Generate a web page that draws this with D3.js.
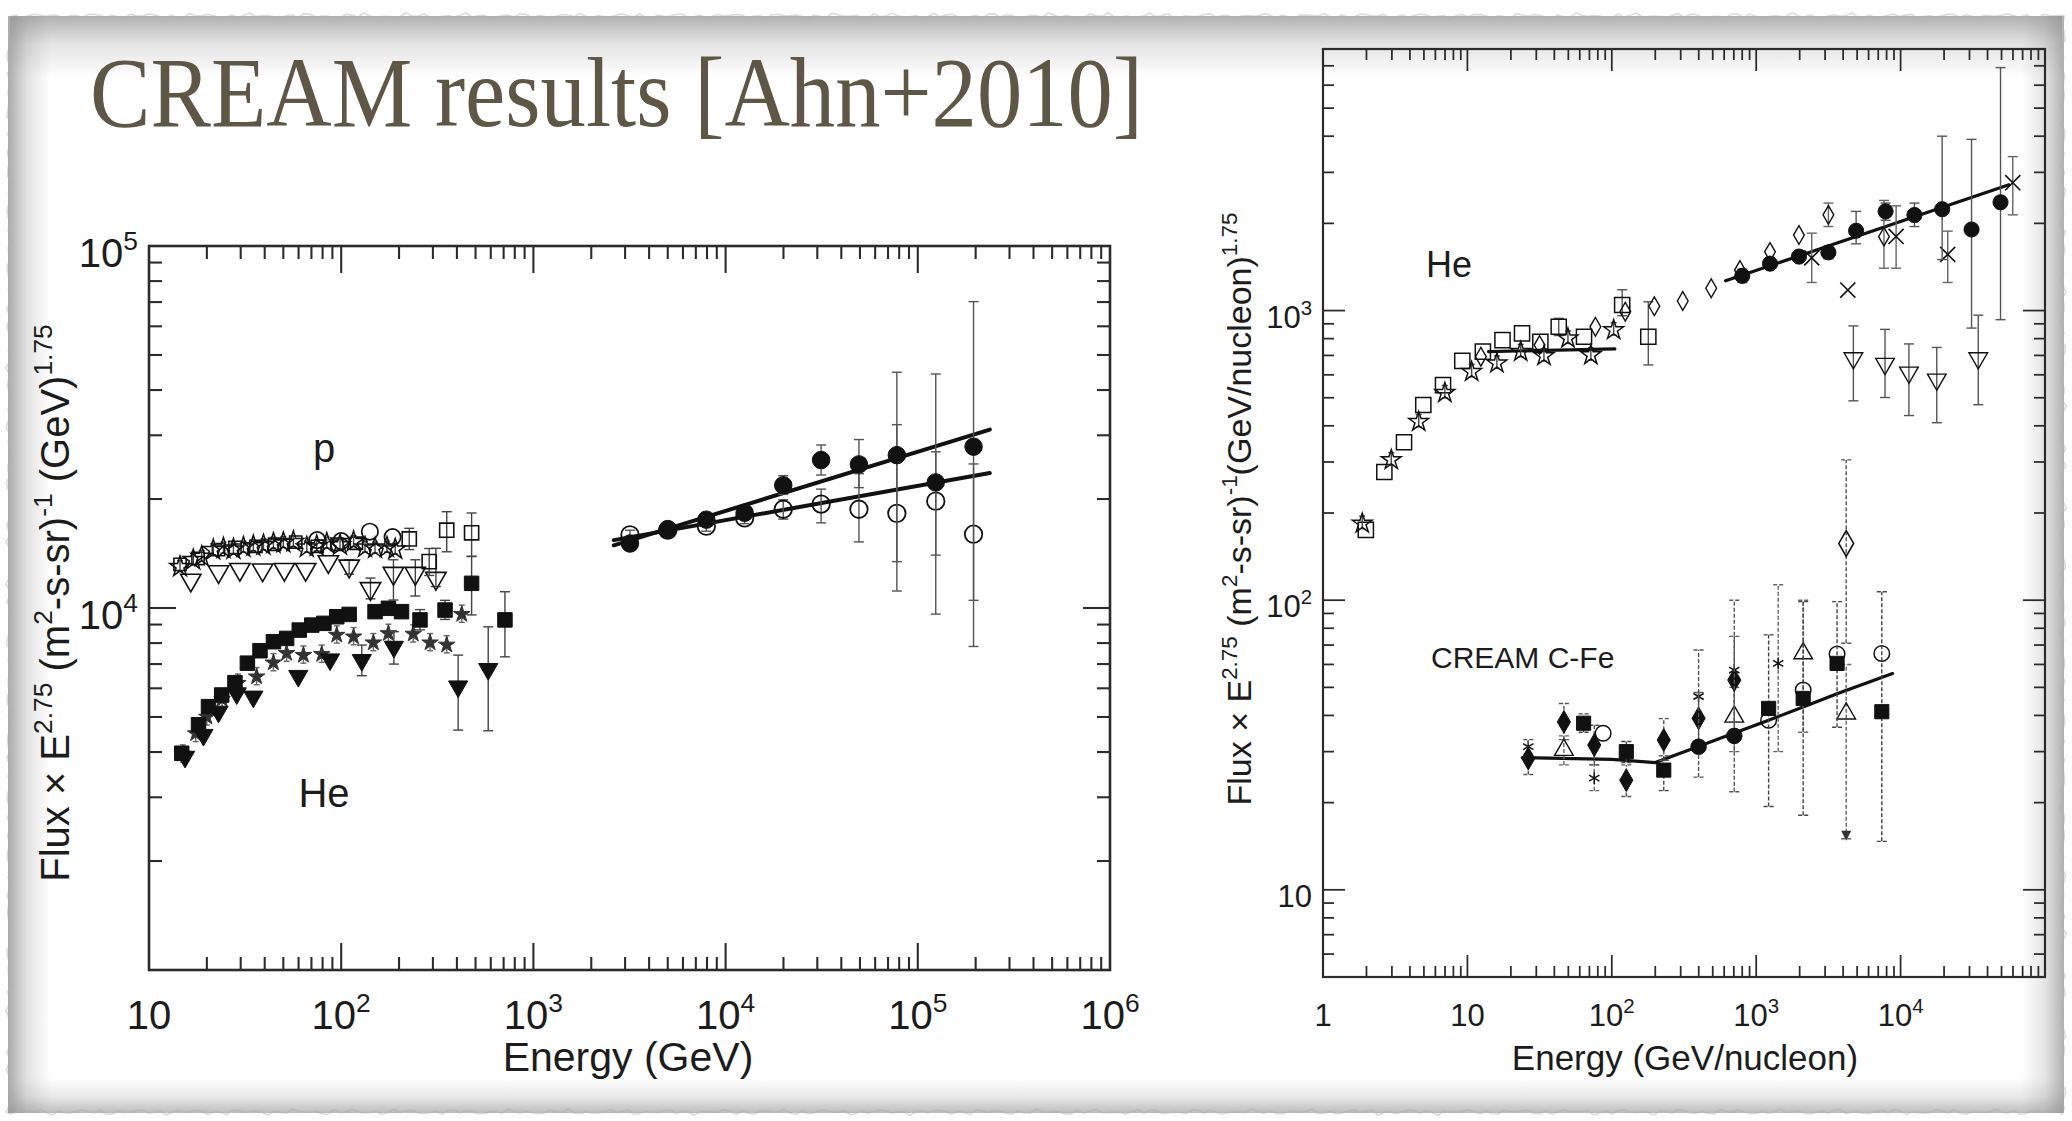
<!DOCTYPE html>
<html><head><meta charset="utf-8">
<script src="https://cdn.jsdelivr.net/npm/d3@7"></script>
<style>body{margin:0;background:#fff;overflow:hidden}svg{display:block}text{white-space:pre}</style>
</head><body><svg id="c" width="2072" height="1121"></svg>
<script>
// ================= DATA =================
// ---- Left panel: p and He spectra (energy per particle) ----
const L_xTickVals = [10, 1e2, 1e3, 1e4, 1e5, 1e6];
const L_xTickExp  = ["", "2", "3", "4", "5", "6"];
const L_yTickVals = [1e4, 1e5];
const L_yTickExp  = ["4", "5"];

// CREAM high-energy: filled circles
const L_cFillE = [3180, 5000, 7940, 12560, 19950, 31400, 49400, 77800, 124000, 195000];
const L_cFillF = [15070, 16520, 17540, 18330, 21830, 25630, 24930, 26440, 22230, 27900];
const L_cFillLo = [14500, 15900, 16900, 17600, 20600, 23300, 21500, 11140, 9620, 7830];
const L_cFillHi = [15700, 17200, 18200, 19100, 23200, 28200, 29200, 44800, 44300, 70200];
// CREAM high-energy: open circles
const L_cOpenE = [3180, 5000, 7940, 12560, 19950, 31400, 49400, 77800, 124000, 195000];
const L_cOpenF = [15920, 16400, 16830, 17740, 18740, 19370, 18740, 18260, 19730, 15990];
const L_cOpenLo = [15400, 15900, 16300, 17100, 17600, 17190, 15230, 13430, 14000, 10500];
const L_cOpenHi = [16400, 16900, 17400, 18400, 19900, 21300, 23500, 32100, 27000, 25000];
// fit lines
const L_fit1E = [2620, 237000], L_fit1F = [14900, 31100];
const L_fit2E = [2620, 237000], L_fit2F = [15400, 23600];

// proton low-energy data
const L_pTriE = [16.5, 23, 29.7, 39, 50.6, 65.3, 85.7, 110, 142, 187, 243, 311];
const L_pTriF = [11940, 12600, 12790, 12740, 12790, 12790, 13430, 13060, 11320, 12470, 12470, 12080];
const L_pTriLo = [null, null, null, null, null, null, null, 12400, 10600, 10520, 10790, 11460];
const L_pTriHi = [null, null, null, null, null, null, null, 13600, 12100, 13590, 13590, 14620];
const L_pSqE = [226, 287, 354, 477];
const L_pSqF = [15520, 13430, 16400, 16130];
const L_pSqLo = [14500, 12300, 14300, 13900];
const L_pSqHi = [16600, 14600, 18450, 18300];
const L_pCircE = [75, 100, 141, 185];
const L_pCircF = [15400, 15300, 16250, 15700];
const L_pStarE = [14.5, 17, 18.8, 21.6, 24.4, 27.5, 31, 34.9, 39.4, 44.4, 50, 56.4, 66.2, 74.6, 84.1, 98.6, 116, 133, 150, 173, 191];
const L_pStarF = [13000, 13580, 13870, 14470, 14620, 14530, 14710, 14830, 14920, 15090, 15150, 15240, 14710, 14830, 15090, 14920, 15240, 14710, 14620, 14710, 14530];
const L_pSq2E = [14.5, 18, 23, 28, 36, 45, 58, 75, 95, 120];
const L_pSq2F = [13200, 13700, 14500, 14700, 14800, 15000, 15200, 14800, 15000, 15100];

// helium low-energy data
const L_heSqE = [14.8, 18.1, 20.4, 23.9, 28, 32.5, 37.8, 44.4, 52, 60.5, 70.3, 81.3, 94.8, 110, 150, 176, 206, 257, 347, 477, 711];
const L_heSqF = [3970, 4760, 5340, 5750, 6220, 7040, 7620, 8070, 8240, 8690, 8970, 9070, 9460, 9600, 9770, 9980, 9770, 9270, 9870, 11700, 9270];
const L_heSqLo = [null, null, null, null, null, null, null, null, null, null, null, null, null, null, null, null, null, 8700, 9300, 9570, 7330];
const L_heSqHi = [null, null, null, null, null, null, null, null, null, null, null, null, null, null, null, null, null, 9900, 10500, 13870, 11090];
const L_heTriE = [15.4, 19.2, 23, 28.6, 34.9, 59.8, 87.5, 128, 188, 406, 582];
const L_heTriF = [3880, 4460, 5170, 5810, 5690, 6490, 7210, 7180, 7810, 6070, 6780];
const L_heTriLo = [null, null, null, null, null, null, null, 6500, 7000, 4600, 4580];
const L_heTriHi = [null, null, null, null, null, null, null, 7900, 8600, 7410, 8870];
const L_heStarE = [15, 17.5, 20, 24, 29, 36.3, 44.4, 52, 63.6, 79.2, 94.8, 116, 147, 176, 237, 290, 354, 424];
const L_heStarF = [3950, 4500, 5000, 5600, 6200, 6460, 7060, 7500, 7410, 7450, 8420, 8330, 8020, 8510, 8480, 8020, 7910, 9610];

// ---- Right panel: He and C-Fe (energy per nucleon) ----
const R_xTickVals = [1, 10, 1e2, 1e3, 1e4];
const R_xTickExp  = ["", "", "2", "3", "4"];
const R_xTickBase = ["1", "10", "10", "10", "10"];
const R_yTickVals = [10, 1e2, 1e3];
const R_yTickExp  = ["", "2", "3"];

const R_heSqE = [1.98, 2.66, 3.64, 4.95, 6.78, 9.22, 12.8, 17.5, 23.9, 32, 42.9, 64.2, 118, 179];
const R_heSqF = [175, 277, 351, 472, 553, 670, 721, 791, 834, 780, 879, 812, 1045, 812];
const R_heSqLo = [null, null, null, null, null, null, null, null, null, null, 820, null, 960, 649];
const R_heSqHi = [null, null, null, null, null, null, null, null, null, null, 940, null, 1180, 1072];
const R_heStarE = [1.87, 2.97, 4.6, 6.98, 10.7, 16, 23.4, 33.9, 49.7, 71.6, 103];
const R_heStarF = [184, 305, 413, 520, 615, 658, 721, 697, 802, 702, 857];
const R_heDiamE = [12.4, 31.6, 77, 124, 197, 310, 488, 772, 1246, 1977, 3162, 7670];
const R_heDiamF = [693, 760, 879, 991, 1035, 1079, 1194, 1380, 1595, 1823, 2140, 1800];
const R_heDiamLo = [null, null, null, null, null, null, null, null, null, null, 1950, 1400];
const R_heDiamHi = [null, null, null, null, null, null, null, null, null, null, 2350, 2400];
const R_heFcE = [801, 1247, 1977, 3162, 4920, 7870, 12470, 19400, 31000, 49200];
const R_heFcF = [1318, 1452, 1536, 1588, 1886, 2200, 2137, 2238, 1905, 2365];
const R_heFcLo = [1250, 1390, 1470, 1510, 1700, 2050, 1950, 1500, 870, 930];
const R_heFcHi = [1390, 1520, 1610, 1670, 2200, 2350, 2350, 4000, 3900, 6900];
const R_heTriE = [4710, 7800, 11420, 17800, 34500];
const R_heTriF = [685, 655, 611, 578, 685];
const R_heTriLo = [488, 501, 434, 410, 473];
const R_heTriHi = [885, 861, 767, 746, 964];
const R_heXE = [2425, 4310, 9310, 21200, 59800];
const R_heXF = [1520, 1177, 1803, 1563, 2763];
const R_heXLo = [1250, null, 1400, 1250, 2140];
const R_heXHi = [1850, null, 2300, 1880, 3400];
const R_heLine1E = [14, 105], R_heLine1F = [722, 737];
const R_heLine2E = [614, 56200], R_heLine2F = [1267, 2717];

const R_cfDiamE = [26.4, 46.6, 75.6, 126, 229, 399, 705];
const R_cfDiamF = [28.4, 38.0, 31.6, 23.9, 32.9, 39.1, 53.0];
const R_cfDiamLo = [25, 33, 27, 21, 28, 32, 38];
const R_cfDiamHi = [33, 44, 37, 27, 39, 48, 75];
const R_cfSqE = [63.8, 126, 229, 1219, 2115, 3631, 7410];
const R_cfSqF = [37.6, 30.0, 25.9, 42.3, 45.8, 60.5, 41.2];
const R_cfSqLo = [35, 27.5, 22, 19.4, 18.1, 36.4, 14.7];
const R_cfSqHi = [40.5, 32.5, 29, 75.9, 98.9, 98.9, 107];
const R_cfFcE = [399, 705];
const R_cfFcF = [31.2, 34.0];
const R_cfFcLo = [24.5, 21.8];
const R_cfFcHi = [67.3, 100];
const R_cfCircE = [87.1, 1219, 2115, 3631, 7410];
const R_cfCircF = [34.7, 38.5, 49.0, 65.2, 65.5];
const R_cfTriE = [46.6, 705, 2115, 4200];
const R_cfTriF = [30.4, 39.6, 65.5, 40.6];
const R_cfTriLo = [27, 30, 35, 15];
const R_cfTriHi = [34, 50, 100, 60];
const R_cfBigE = [4200], R_cfBigF = [157], R_cfBigLo = [71], R_cfBigHi = [305];
const R_cfAstE = [26.4, 75.6, 399, 705, 1420];
const R_cfAstF = [31.2, 24.3, 46.5, 57.4, 60.5];
const R_cfAstLo = [null, 22, null, null, 30];
const R_cfAstHi = [null, 27, null, null, 113];
const R_cfLineE = [24, 100, 200, 373, 698, 1233, 2178, 3630, 8790];
const R_cfLineF = [28.6, 28.2, 27.5, 30.9, 34.7, 38.6, 43, 47.5, 55.8];

// ================= DRAWING =================
const SANS = "'Liberation Sans', Arial, Helvetica, sans-serif";
const TXT = "#1c1c1c";
const svg = d3.select("#c");
const defs = svg.append("defs");

// --- paper background with shaded, torn edges ---
svg.append("rect").attr("width", 2072).attr("height", 1121).attr("fill", "#ffffff");
function grad(id, x1, y1, x2, y2, c, op) {
  const g = defs.append("linearGradient").attr("id", id)
    .attr("x1", x1).attr("y1", y1).attr("x2", x2).attr("y2", y2);
  g.append("stop").attr("offset", 0).attr("stop-color", c).attr("stop-opacity", op);
  g.append("stop").attr("offset", 0.45).attr("stop-color", c).attr("stop-opacity", op * 0.35);
  g.append("stop").attr("offset", 1).attr("stop-color", c).attr("stop-opacity", 0);
}
grad("gT", 0, 0, 0, 1, "#8f8f8f", 0.7);
grad("gL", 0, 0, 1, 0, "#8f8f8f", 0.75);
grad("gR", 1, 0, 0, 0, "#8f8f8f", 0.7);
grad("gB", 0, 1, 0, 0, "#8f8f8f", 0.6);
svg.append("rect").attr("x", 10).attr("y", 16).attr("width", 2052).attr("height", 62).attr("fill", "url(#gT)");
svg.append("rect").attr("x", 8).attr("y", 16).attr("width", 42).attr("height", 1097).attr("fill", "url(#gL)");
svg.append("rect").attr("x", 2022).attr("y", 16).attr("width", 42).attr("height", 1097).attr("fill", "url(#gR)");
svg.append("rect").attr("x", 8).attr("y", 1078).attr("width", 2056).attr("height", 35).attr("fill", "url(#gB)");
// torn edge outline (deterministic wiggle)
function wig(i) { return 1.6 * Math.sin(i * 1.93) + 1.1 * Math.sin(i * 0.71) + 0.8 * Math.sin(i * 3.7); }
const edge = [];
for (let x = 10; x <= 2062; x += 6) edge.push([x, 16 + wig(x / 6)]);
for (let y = 16; y <= 1112; y += 6) edge.push([2063 + wig(y / 6 + 50), y]);
for (let x = 2062; x >= 10; x -= 6) edge.push([x, 1112 + wig(x / 6 + 90)]);
for (let y = 1112; y >= 16; y -= 6) edge.push([9 + wig(y / 6 + 130), y]);
svg.append("path").attr("d", d3.line()(edge) + "Z").attr("fill", "none")
  .attr("stroke", "#b0b0b0").attr("stroke-width", 1.6).attr("opacity", 0.45);

// --- title ---
svg.append("text").attr("x", 90).attr("y", 126)
  .attr("font-family", "'Liberation Serif', 'DejaVu Serif', serif")
  .attr("font-size", 99).attr("fill", "#5e5746")
  .attr("textLength", 1053).attr("lengthAdjust", "spacingAndGlyphs")
  .text("CREAM results [Ahn+2010]");

// --- helpers ---
function rich(g, parts, F, attrs) {
  const t = g.append("text").attr("font-size", F).attr("font-family", SANS).attr("fill", TXT);
  for (const k in attrs) t.attr(k, attrs[k]);
  let up = false;
  parts.forEach(([s, sup]) => {
    if (!s) return;
    const ts = t.append("tspan").text(s);
    if (sup) { ts.attr("font-size", 0.66 * F); if (!up) { ts.attr("dy", -0.42 * F); up = true; } }
    else if (up) { ts.attr("dy", 0.42 * F); up = false; }
  });
  return t;
}

function frame(g, x, y, majLen, minLen, sw) {
  const [x0, x1] = x.range(), [y0, y1] = y.range(); // y0 bottom, y1 top
  const isMaj = v => Math.abs(Math.log10(v) - Math.round(Math.log10(v))) < 1e-9;
  const xt = x.ticks().filter(v => v > x.domain()[0] * 1.0001 && v < x.domain()[1] * 0.9999);
  const yt = y.ticks().filter(v => v > y.domain()[0] * 1.0001 && v < y.domain()[1] * 0.9999);
  const tg = g.append("g").attr("stroke", "#2b2b2b").attr("stroke-width", sw * 0.8);
  xt.forEach(v => {
    const L = isMaj(v) ? majLen : minLen, px = x(v);
    tg.append("line").attr("x1", px).attr("x2", px).attr("y1", y0).attr("y2", y0 - L);
    tg.append("line").attr("x1", px).attr("x2", px).attr("y1", y1).attr("y2", y1 + L);
  });
  yt.forEach(v => {
    const L = isMaj(v) ? majLen : minLen, py = y(v);
    tg.append("line").attr("y1", py).attr("y2", py).attr("x1", x0).attr("x2", x0 + L);
    tg.append("line").attr("y1", py).attr("y2", py).attr("x1", x1).attr("x2", x1 - L);
  });
  g.append("rect").attr("x", x0).attr("y", y1).attr("width", x1 - x0).attr("height", y0 - y1)
    .attr("fill", "none").attr("stroke", "#2b2b2b").attr("stroke-width", sw);
}

const SYM = {
  circle: d3.symbolCircle, square: d3.symbolSquare, tri: d3.symbolTriangle,
  diamond: d3.symbolDiamond, star: d3.symbolStar,
  times: d3.symbolTimes || d3.symbolCross, ast: d3.symbolAsterisk || d3.symbolCross
};
function series(g, x, y, E, F, o) {
  if (o.lo) {
    const eg = g.append("g").attr("stroke", o.ec || "#444").attr("stroke-width", o.ew || 1.4)
      .attr("stroke-dasharray", o.dash || null);
    E.forEach((e, i) => {
      if (o.lo[i] == null) return;
      const px = x(e), ya = y(o.lo[i]), yb = y(o.hi[i]), c = o.cap || 5;
      eg.append("line").attr("x1", px).attr("x2", px).attr("y1", ya).attr("y2", yb);
      eg.append("line").attr("x1", px - c).attr("x2", px + c).attr("y1", ya).attr("y2", ya).attr("stroke-dasharray", null);
      eg.append("line").attr("x1", px - c).attr("x2", px + c).attr("y1", yb).attr("y2", yb).attr("stroke-dasharray", null);
    });
  }
  const gen = d3.symbol().type(SYM[o.type]).size(o.size);
  g.append("g").selectAll("path").data(E.map((e, i) => [e, F[i]])).join("path")
    .attr("d", gen)
    .attr("transform", d => `translate(${x(d[0])},${y(d[1])})` + (o.rot ? " rotate(180)" : ""))
    .attr("fill", o.fill || "none")
    .attr("stroke", o.stroke || "#111")
    .attr("stroke-width", o.sw == null ? 1.7 : o.sw);
}
function fitLine(g, x, y, E, F, w) {
  g.append("path").datum(E.map((e, i) => [e, F[i]]))
    .attr("d", d3.line().x(d => x(d[0])).y(d => y(d[1])))
    .attr("fill", "none").attr("stroke", "#111").attr("stroke-width", w).attr("stroke-linecap", "round");
}

// ================= LEFT PANEL =================
{
  const x = d3.scaleLog().domain([10, 1e6]).range([149, 1110]);
  const y = d3.scaleLog().domain([1e3, 1e5]).range([970, 246]);
  const g = svg.append("g");
  frame(g, x, y, 27, 13, 2.6);

  L_xTickVals.forEach((v, i) => rich(g, [["10", false], [L_xTickExp[i], true]], 40,
    { x: x(v), y: 1029, "text-anchor": "middle" }));
  L_yTickVals.forEach((v, i) => rich(g, [["10", false], [L_yTickExp[i], true]], 40,
    { x: 138, y: y(v) + 21, "text-anchor": "end" }));
  g.append("text").attr("x", 628).attr("y", 1071).attr("text-anchor", "middle")
    .attr("font-family", SANS).attr("font-size", 41).attr("fill", TXT).text("Energy (GeV)");
  rich(g, [["Flux × E", false], ["2.75", true], [" (m", false], ["2", true], ["-s-sr)", false], ["-1", true], [" (GeV)", false], ["1.75", true]], 40,
    { transform: "translate(69,603) rotate(-90)", "text-anchor": "middle" });
  g.append("text").attr("x", 324).attr("y", 462).attr("text-anchor", "middle")
    .attr("font-family", SANS).attr("font-size", 40).attr("fill", TXT).text("p");
  g.append("text").attr("x", 324).attr("y", 807).attr("text-anchor", "middle")
    .attr("font-family", SANS).attr("font-size", 40).attr("fill", TXT).text("He");

  // proton data
  series(g, x, y, L_pSq2E, L_pSq2F, { type: "square", size: 150, sw: 1.6 });
  series(g, x, y, L_pStarE, L_pStarF, { type: "star", size: 130, sw: 1.5,
    lo: L_pStarF.map(f => f * 0.97), hi: L_pStarF.map(f => f * 1.04), cap: 3 });
  series(g, x, y, L_pCircE, L_pCircF, { type: "circle", size: 210, sw: 1.7 });
  series(g, x, y, L_pTriE, L_pTriF, { type: "tri", size: 180, rot: true, sw: 1.6, lo: L_pTriLo, hi: L_pTriHi });
  series(g, x, y, L_pSqE, L_pSqF, { type: "square", size: 200, sw: 1.6, lo: L_pSqLo, hi: L_pSqHi });

  // helium data
  series(g, x, y, L_heStarE, L_heStarF, { type: "star", size: 85, fill: "#333", stroke: "#333", sw: 1,
    lo: L_heStarF.map(f => f * 0.95), hi: L_heStarF.map(f => f * 1.06), cap: 3, ec: "#666" });
  series(g, x, y, L_heTriE, L_heTriF, { type: "tri", size: 160, rot: true, fill: "#111", sw: 1, lo: L_heTriLo, hi: L_heTriHi });
  series(g, x, y, L_heSqE, L_heSqF, { type: "square", size: 210, fill: "#111", sw: 1, lo: L_heSqLo, hi: L_heSqHi });

  // CREAM high energy
  fitLine(g, x, y, L_fit1E, L_fit1F, 4);
  fitLine(g, x, y, L_fit2E, L_fit2F, 4);
  series(g, x, y, L_cOpenE, L_cOpenF, { type: "circle", size: 240, sw: 1.8, lo: L_cOpenLo, hi: L_cOpenHi, ec: "#555" });
  series(g, x, y, L_cFillE, L_cFillF, { type: "circle", size: 240, fill: "#111", sw: 1, lo: L_cFillLo, hi: L_cFillHi, ec: "#555" });
}

// ================= RIGHT PANEL =================
{
  const x = d3.scaleLog().domain([1, 1e5]).range([1323, 2045]);
  const y = d3.scaleLog().domain([5, 8000]).range([977, 49]);
  const g = svg.append("g");
  frame(g, x, y, 22, 11, 2.2);

  R_xTickVals.forEach((v, i) => rich(g, [[R_xTickBase[i], false], [R_xTickExp[i], true]], 31,
    { x: x(v), y: 1026, "text-anchor": "middle" }));
  R_yTickVals.forEach((v, i) => rich(g, [["10", false], [R_yTickExp[i], true]], 31,
    { x: 1312, y: y(v) + 17, "text-anchor": "end" }));
  g.append("text").attr("x", 1685).attr("y", 1070).attr("text-anchor", "middle")
    .attr("font-family", SANS).attr("font-size", 35).attr("fill", TXT).text("Energy (GeV/nucleon)");
  rich(g, [["Flux × E", false], ["2.75", true], [" (m", false], ["2", true], ["-s-sr)", false], ["-1", true], ["(GeV/nucleon)", false], ["1.75", true]], 34,
    { transform: "translate(1251,509) rotate(-90)", "text-anchor": "middle" });
  g.append("text").attr("x", 1449).attr("y", 277).attr("text-anchor", "middle")
    .attr("font-family", SANS).attr("font-size", 36).attr("fill", TXT).text("He");
  g.append("text").attr("x", 1431).attr("y", 668)
    .attr("font-family", SANS).attr("font-size", 30).attr("fill", TXT).text("CREAM C-Fe");

  // He
  fitLine(g, x, y, R_heLine1E, R_heLine1F, 3.2);
  fitLine(g, x, y, R_heLine2E, R_heLine2F, 3.2);
  series(g, x, y, R_heSqE, R_heSqF, { type: "square", size: 230, sw: 1.5, lo: R_heSqLo, hi: R_heSqHi, ec: "#555" });
  series(g, x, y, R_heStarE, R_heStarF, { type: "star", size: 120, sw: 1.5,
    lo: R_heStarF.map(f => f * 0.96), hi: R_heStarF.map(f => f * 1.06), cap: 3 });
  series(g, x, y, R_heDiamE, R_heDiamF, { type: "diamond", size: 100, sw: 1.4, lo: R_heDiamLo, hi: R_heDiamHi, ec: "#666" });
  series(g, x, y, R_heTriE, R_heTriF, { type: "tri", size: 150, rot: true, sw: 1.4, lo: R_heTriLo, hi: R_heTriHi, ec: "#555" });
  series(g, x, y, R_heXE, R_heXF, { type: "times", size: 150, sw: 1.6, lo: R_heXLo, hi: R_heXHi, ec: "#666" });
  series(g, x, y, R_heFcE, R_heFcF, { type: "circle", size: 180, fill: "#111", sw: 1, lo: R_heFcLo, hi: R_heFcHi, ec: "#555" });

  // C-Fe
  fitLine(g, x, y, R_cfLineE, R_cfLineF, 3.2);
  const dash = "4,2";
  series(g, x, y, R_cfBigE, R_cfBigF, { type: "diamond", size: 190, sw: 1.6, lo: R_cfBigLo, hi: R_cfBigHi, ec: "#555", dash });
  series(g, x, y, R_cfTriE, R_cfTriF, { type: "tri", size: 150, sw: 1.4, lo: R_cfTriLo, hi: R_cfTriHi, ec: "#666", dash });
  series(g, x, y, R_cfCircE, R_cfCircF, { type: "circle", size: 190, sw: 1.5 });
  series(g, x, y, R_cfAstE, R_cfAstF, { type: "ast", size: 100, sw: 1.5, lo: R_cfAstLo, hi: R_cfAstHi, ec: "#666", dash });
  series(g, x, y, R_cfDiamE, R_cfDiamF, { type: "diamond", size: 150, fill: "#111", sw: 1, lo: R_cfDiamLo, hi: R_cfDiamHi, ec: "#555", dash });
  series(g, x, y, R_cfFcE, R_cfFcF, { type: "circle", size: 190, fill: "#111", sw: 1, lo: R_cfFcLo, hi: R_cfFcHi, ec: "#555", dash });
  series(g, x, y, R_cfSqE, R_cfSqF, { type: "square", size: 200, fill: "#111", sw: 1, lo: R_cfSqLo, hi: R_cfSqHi, ec: "#444", dash });
  const ax = x(4200), ay = y(15);
  g.append("path").attr("d", `M${ax - 5},${ay - 8}L${ax + 5},${ay - 8}L${ax},${ay + 2}Z`).attr("fill", "#333");
}
</script></body></html>
